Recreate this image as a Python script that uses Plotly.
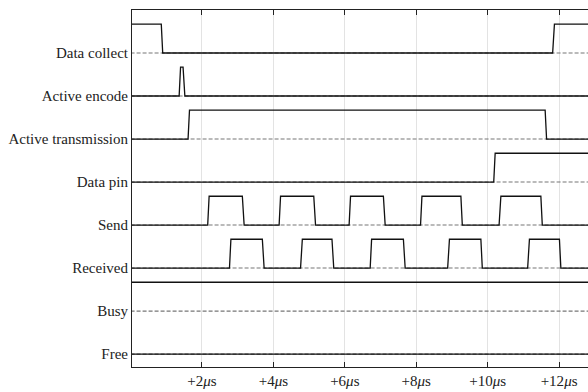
import plotly.graph_objects as go

lanes = ["Free", "Busy", "Received", "Send", "Data pin",
         "Active transmission", "Active encode", "Data collect"]

# time points (µs) and logic levels for each signal
data_collect_t = [0, 0.86, 0.90, 11.82, 11.87, 13.0]
data_collect_v = [1, 1, 0, 0, 1, 1]

active_encode_t = [0, 1.36, 1.40, 1.47, 1.52, 13.0]
active_encode_v = [0, 0, 1, 1, 0, 0]

active_trans_t = [0, 1.61, 1.65, 11.61, 11.65, 13.0]
active_trans_v = [0, 0, 1, 1, 0, 0]

data_pin_t = [0, 10.17, 10.21, 13.0]
data_pin_v = [0, 0, 1, 1]

send_t = [0, 2.16, 2.20, 3.13, 3.18, 4.16, 4.20, 5.13, 5.18, 6.12, 6.16, 7.08, 7.13,
          8.12, 8.16, 9.25, 9.29, 10.32, 10.37, 11.49, 11.53, 13.0]
send_v = [0, 0, 1, 1, 0, 0, 1, 1, 0, 0, 1, 1, 0, 0, 1, 1, 0, 0, 1, 1, 0, 0]

received_t = [0, 2.77, 2.81, 3.69, 3.74, 4.76, 4.81, 5.64, 5.69, 6.71, 6.75, 7.64, 7.69,
              8.88, 8.93, 9.81, 9.85, 11.12, 11.17, 12.01, 12.05, 13.0]
received_v = [0, 0, 1, 1, 0, 0, 1, 1, 0, 0, 1, 1, 0, 0, 1, 1, 0, 0, 1, 1, 0, 0]

busy_t = [0, 13.0]
busy_v = [1, 1]

free_t = [0, 13.0]
free_v = [0, 0]

x_ticks = [2, 4, 6, 8, 10, 12]
x_tick_labels = ["+2<i>μ</i>s", "+4<i>μ</i>s", "+6<i>μ</i>s", "+8<i>μ</i>s",
                 "+10<i>μ</i>s", "+12<i>μ</i>s"]

signals = {
    "Data collect": (data_collect_t, data_collect_v),
    "Active encode": (active_encode_t, active_encode_v),
    "Active transmission": (active_trans_t, active_trans_v),
    "Data pin": (data_pin_t, data_pin_v),
    "Send": (send_t, send_v),
    "Received": (received_t, received_v),
    "Busy": (busy_t, busy_v),
    "Free": (free_t, free_v),
}

HIGH = 0.67
fig = go.Figure()

# dashed baselines
for i, name in enumerate(lanes):
    fig.add_trace(go.Scatter(x=[0, 13.0], y=[i, i], mode="lines",
                             line=dict(color="#777777", width=1.1, dash="4px,2px"),
                             hoverinfo="skip", showlegend=False))

# signals
for i, name in enumerate(lanes):
    t, v = signals[name]
    fig.add_trace(go.Scatter(x=t, y=[i + HIGH * lv for lv in v], mode="lines",
                             line=dict(color="#111111", width=1.3),
                             name=name, showlegend=False))

fig.update_layout(
    width=588, height=392,
    margin=dict(l=132, r=0, t=10, b=25),
    plot_bgcolor="white", paper_bgcolor="white",
    font=dict(family="Liberation Serif, Times New Roman, serif", size=15, color="#222"),
)
fig.update_xaxes(range=[0.04, 12.81], tickvals=x_ticks, ticktext=x_tick_labels,
                 showgrid=True, gridcolor="#e3e3e3", gridwidth=1,
                 showline=True, linecolor="#222", linewidth=1, mirror="allticks",
                 ticks="inside", ticklen=5, tickcolor="#222", zeroline=False,
                 tickfont=dict(size=15))
fig.update_yaxes(range=[-0.3, 8.0], tickvals=list(range(len(lanes))), ticktext=lanes,
                 showgrid=False, showline=True, linecolor="#222", linewidth=1,
                 ticks="", zeroline=False, tickfont=dict(size=15))

fig.write_html("out.html", config={"displayModeBar": False},
               post_script="document.body.style.margin='0px';document.body.style.overflow='hidden';")
